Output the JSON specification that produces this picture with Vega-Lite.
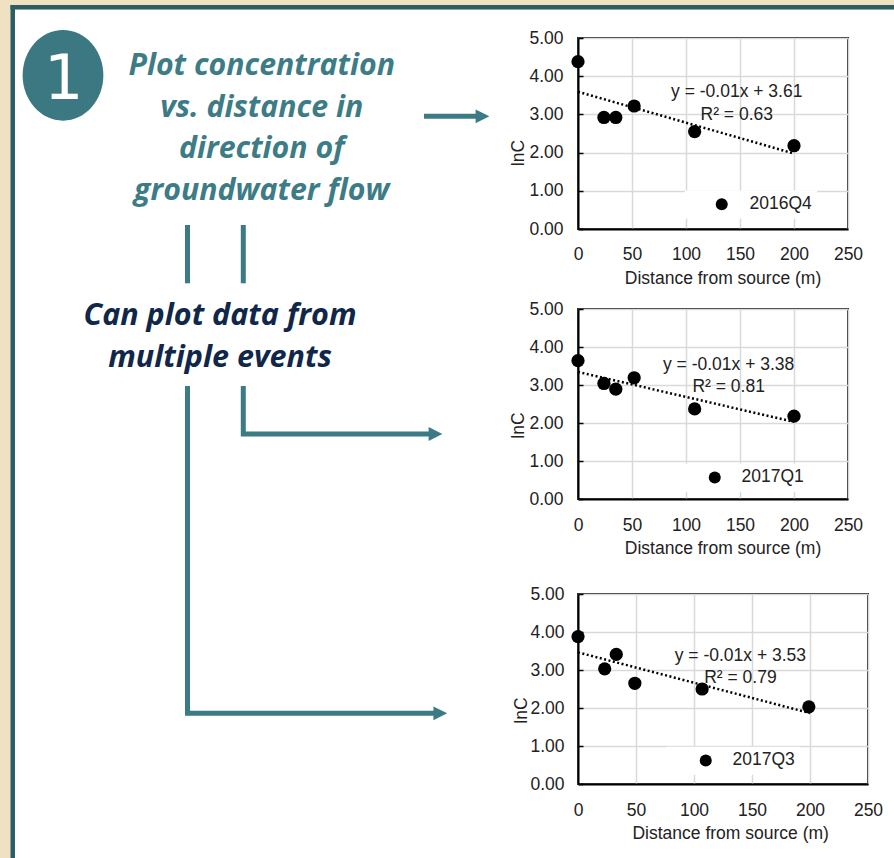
{
  "$schema": "https://vega.github.io/schema/vega-lite/v6.json",
  "background": "#EFE2C3",
  "padding": 0,
  "autosize": {"type": "pad"},
  "columns": 2,
  "spacing": {"row": 80, "column": 18},
  "bounds": "flush",
  "align": "each",
  "resolve": {"scale": {"color": "independent"}},
  "datasets": {
    "pts": [
      {"event": "2016Q4", "dist": 0, "lnC": 4.38},
      {"event": "2016Q4", "dist": 24, "lnC": 2.92},
      {"event": "2016Q4", "dist": 35, "lnC": 2.92},
      {"event": "2016Q4", "dist": 52, "lnC": 3.22},
      {"event": "2016Q4", "dist": 108, "lnC": 2.55},
      {"event": "2016Q4", "dist": 200, "lnC": 2.18},
      {"event": "2017Q1", "dist": 0, "lnC": 3.64},
      {"event": "2017Q1", "dist": 24, "lnC": 3.04},
      {"event": "2017Q1", "dist": 35, "lnC": 2.89},
      {"event": "2017Q1", "dist": 52, "lnC": 3.19},
      {"event": "2017Q1", "dist": 108, "lnC": 2.37},
      {"event": "2017Q1", "dist": 200, "lnC": 2.18},
      {"event": "2017Q3", "dist": 0, "lnC": 3.88},
      {"event": "2017Q3", "dist": 23, "lnC": 3.03},
      {"event": "2017Q3", "dist": 33, "lnC": 3.41},
      {"event": "2017Q3", "dist": 49, "lnC": 2.65},
      {"event": "2017Q3", "dist": 107, "lnC": 2.5},
      {"event": "2017Q3", "dist": 199, "lnC": 2.03}
    ],
    "eqs": [
      {"event": "2016Q4", "label": "y = -0.01x + 3.61", "dist": 147, "lnC": 3.45},
      {"event": "2016Q4", "label": "R² = 0.63", "dist": 147, "lnC": 2.85},
      {"event": "2017Q1", "label": "y = -0.01x + 3.38", "dist": 139.5, "lnC": 3.39},
      {"event": "2017Q1", "label": "R² = 0.81", "dist": 139.5, "lnC": 2.82},
      {"event": "2017Q3", "label": "y = -0.01x + 3.53", "dist": 140, "lnC": 3.24},
      {"event": "2017Q3", "label": "R² = 0.79", "dist": 140, "lnC": 2.67}
    ],
    "bg": [{"x": 0, "x2": 894, "y": 0, "y2": 858}],
    "panel": [{"x": 15, "x2": 894, "y": 9.5, "y2": 858}],
    "border": [
      {"x": 10.5, "x2": 15, "y": 5, "y2": 858},
      {"x": 10.5, "x2": 894, "y": 5, "y2": 9.5}
    ],
    "arrows": [
      {"path": "a", "ord": 1, "x": 424, "y": 116.3},
      {"path": "a", "ord": 2, "x": 478, "y": 116.3},
      {"path": "b", "ord": 1, "x": 187.5, "y": 225},
      {"path": "b", "ord": 2, "x": 187.5, "y": 283.3},
      {"path": "c", "ord": 1, "x": 243.3, "y": 225},
      {"path": "c", "ord": 2, "x": 243.3, "y": 283.3},
      {"path": "d", "ord": 1, "x": 187.5, "y": 386},
      {"path": "d", "ord": 2, "x": 187.5, "y": 713.3},
      {"path": "d", "ord": 3, "x": 436, "y": 713.3},
      {"path": "e", "ord": 1, "x": 243.3, "y": 386},
      {"path": "e", "ord": 2, "x": 243.3, "y": 434},
      {"path": "e", "ord": 3, "x": 431, "y": 434}
    ],
    "heads": [
      {"x": 482.5, "y": 116.3},
      {"x": 440.3, "y": 713.3},
      {"x": 435.5, "y": 434}
    ],
    "badge": [{"x": 63, "y": 75.3}],
    "badgeText": [{"text": "1", "x": 63.7, "y": 99.3}],
    "tealText": [
      {"text": "Plot concentration", "x": 261.7, "y": 75},
      {"text": "vs. distance in", "x": 261.7, "y": 116.7},
      {"text": "direction of", "x": 261.7, "y": 158.3},
      {"text": "groundwater flow", "x": 261.7, "y": 200}
    ],
    "navyText": [
      {"text": "Can plot data from", "x": 220, "y": 325},
      {"text": "multiple events", "x": 220, "y": 367.3}
    ]
  },
  "concat": [
    {
      "width": 560,
      "height": 191,
      "encoding": {
        "x": {"field": "x", "type": "quantitative", "scale": {"domain": [0, 560], "nice": false, "zero": false}, "axis": null},
        "y": {"field": "y", "type": "quantitative", "scale": {"domain": [38, 229], "reverse": true, "nice": false, "zero": false}, "axis": null}
      },
      "layer": [
        {"data": {"name": "bg"}, "mark": {"type": "rect", "fill": "#EFE2C3"}, "encoding": {"x2": {"field": "x2"}, "y2": {"field": "y2"}}},
        {"data": {"name": "panel"}, "mark": {"type": "rect", "fill": "#FFFFFF"}, "encoding": {"x2": {"field": "x2"}, "y2": {"field": "y2"}}},
        {"data": {"name": "border"}, "mark": {"type": "rect", "fill": "#2B5D64"}, "encoding": {"x2": {"field": "x2"}, "y2": {"field": "y2"}}},
        {"data": {"name": "arrows"}, "mark": {"type": "line", "color": "#3C7B85", "strokeWidth": 5, "strokeCap": "butt", "strokeJoin": "miter"}, "encoding": {"detail": {"field": "path"}, "order": {"field": "ord", "type": "quantitative"}}},
        {"data": {"name": "heads"}, "mark": {"type": "point", "shape": "M-1,-1L1,0L-1,1Z", "size": 190, "filled": true, "opacity": 1, "color": "#3C7B85"}},
        {"data": {"name": "badge"}, "mark": {"type": "point", "shape": "M-0.89,0A0.89,1,0,1,1,0.89,0A0.89,1,0,1,1,-0.89,0Z", "size": 8226, "filled": true, "opacity": 1, "color": "#3B7882"}},
        {"data": {"name": "badgeText"}, "mark": {"type": "text", "font": "DejaVu Sans", "fontSize": 62, "color": "#FFFFFF", "align": "center", "baseline": "alphabetic"}, "encoding": {"text": {"field": "text"}}},
        {"data": {"name": "tealText"}, "mark": {"type": "text", "font": "Open Sans", "fontSize": 30.3, "fontWeight": "bold", "fontStyle": "italic", "color": "#3D7C86", "align": "center", "baseline": "alphabetic"}, "encoding": {"text": {"field": "text"}}},
        {"data": {"name": "navyText"}, "mark": {"type": "text", "font": "Open Sans", "fontSize": 30.5, "fontWeight": "bold", "fontStyle": "italic", "color": "#10274A", "align": "center", "baseline": "alphabetic"}, "encoding": {"text": {"field": "text"}}}
      ]
    },
    {
      "width": 270,
      "height": 191,
      "view": {"stroke": "#262626", "strokeWidth": 2},
      "encoding": {
        "x": {"field": "dist", "type": "quantitative", "scale": {"domain": [0, 250], "nice": false}, "axis": {"values": [0, 50, 100, 150, 200, 250], "title": "Distance from source (m)", "titleX": 144.5, "titleY": 54.3, "titleBaseline": "alphabetic", "ticks": false, "labelPadding": 16.5, "labelFlush": false}},
        "y": {"field": "lnC", "type": "quantitative", "scale": {"domain": [0, 5], "nice": false}, "axis": {"values": [0, 1, 2, 3, 4, 5], "format": ".2f", "title": "lnC", "titleX": -54.7, "titleY": 114.5, "titleBaseline": "alphabetic", "titleAngle": 270, "titleAlign": "center", "tickSize": -5, "tickWidth": 1.5, "labelPadding": 20}}
      },
      "layer": [
        {"data": {"name": "pts"}, "transform": [{"filter": "datum.event === '2016Q4'"}, {"regression": "lnC", "on": "dist", "extent": [0, 200]}], "mark": {"type": "line", "color": "#000", "strokeWidth": 2.5, "strokeDash": [2, 2.5]}, "encoding": {}},
        {"data": {"name": "pts"}, "transform": [{"filter": "datum.event === '2016Q4'"}], "mark": {"type": "circle", "size": 175, "opacity": 1}, "encoding": {"color": {"field": "event", "type": "nominal", "scale": {"range": ["#000000"]}, "legend": {"orient": "none", "legendX": 107, "legendY": 152.5, "title": null, "padding": 5, "fillColor": "#FFFFFF", "symbolOffset": 23, "labelOffset": 19, "symbolSize": 144, "symbolType": "circle", "symbolStrokeWidth": 0}}}},
        {"data": {"name": "eqs"}, "transform": [{"filter": "datum.event === '2016Q4'"}], "mark": {"type": "text", "fontSize": 17.5, "color": "#222222", "align": "center", "baseline": "alphabetic"}, "encoding": {"text": {"field": "label"}}}
      ]
    },
    {"width": 10, "height": 205, "data": {"values": []}, "mark": {"type": "point", "opacity": 0}},
    {
      "width": 270,
      "height": 190,
      "view": {"stroke": "#262626", "strokeWidth": 2},
      "encoding": {
        "x": {"field": "dist", "type": "quantitative", "scale": {"domain": [0, 250], "nice": false}, "axis": {"values": [0, 50, 100, 150, 200, 250], "title": "Distance from source (m)", "titleX": 144.5, "titleY": 54.3, "titleBaseline": "alphabetic", "ticks": false, "labelPadding": 17.5, "labelFlush": false}},
        "y": {"field": "lnC", "type": "quantitative", "scale": {"domain": [0, 5], "nice": false}, "axis": {"values": [0, 1, 2, 3, 4, 5], "format": ".2f", "title": "lnC", "titleX": -54.7, "titleY": 116, "titleBaseline": "alphabetic", "titleAngle": 270, "titleAlign": "center", "tickSize": -5, "tickWidth": 1.5, "labelPadding": 20}}
      },
      "layer": [
        {"data": {"name": "pts"}, "transform": [{"filter": "datum.event === '2017Q1'"}, {"regression": "lnC", "on": "dist", "extent": [0, 200]}], "mark": {"type": "line", "color": "#000", "strokeWidth": 2.5, "strokeDash": [2, 2.5]}, "encoding": {}},
        {"data": {"name": "pts"}, "transform": [{"filter": "datum.event === '2017Q1'"}], "mark": {"type": "circle", "size": 175, "opacity": 1}, "encoding": {"color": {"field": "event", "type": "nominal", "scale": {"range": ["#000000"]}, "legend": {"orient": "none", "legendX": 95, "legendY": 154.7, "title": null, "padding": 5, "fillColor": "#FFFFFF", "symbolOffset": 28, "labelOffset": 18, "symbolSize": 144, "symbolType": "circle", "symbolStrokeWidth": 0}}}},
        {"data": {"name": "eqs"}, "transform": [{"filter": "datum.event === '2017Q1'"}], "mark": {"type": "text", "fontSize": 17.5, "color": "#222222", "align": "center", "baseline": "alphabetic"}, "encoding": {"text": {"field": "label"}}}
      ]
    },
    {"width": 10, "height": 150, "data": {"values": []}, "mark": {"type": "point", "opacity": 0}},
    {
      "width": 290,
      "height": 190,
      "view": {"stroke": "#262626", "strokeWidth": 2},
      "encoding": {
        "x": {"field": "dist", "type": "quantitative", "scale": {"domain": [0, 250], "nice": false}, "axis": {"values": [0, 50, 100, 150, 200, 250], "title": "Distance from source (m)", "titleX": 152.2, "titleY": 54.3, "titleBaseline": "alphabetic", "ticks": false, "labelPadding": 17.5, "labelFlush": false}},
        "y": {"field": "lnC", "type": "quantitative", "scale": {"domain": [0, 5], "nice": false}, "axis": {"values": [0, 1, 2, 3, 4, 5], "format": ".2f", "title": "lnC", "titleX": -52, "titleY": 116, "titleBaseline": "alphabetic", "titleAngle": 270, "titleAlign": "center", "tickSize": -5, "tickWidth": 1.5, "labelPadding": 19}}
      },
      "layer": [
        {"data": {"name": "pts"}, "transform": [{"filter": "datum.event === '2017Q3'"}, {"regression": "lnC", "on": "dist", "extent": [0, 200]}], "mark": {"type": "line", "color": "#000", "strokeWidth": 2.5, "strokeDash": [2, 2.5]}, "encoding": {}},
        {"data": {"name": "pts"}, "transform": [{"filter": "datum.event === '2017Q3'"}], "mark": {"type": "circle", "size": 175, "opacity": 1}, "encoding": {"color": {"field": "event", "type": "nominal", "scale": {"range": ["#000000"]}, "legend": {"orient": "none", "legendX": 88, "legendY": 152.7, "title": null, "padding": 5, "fillColor": "#FFFFFF", "symbolOffset": 26, "labelOffset": 18, "symbolSize": 144, "symbolType": "circle", "symbolStrokeWidth": 0}}}},
        {"data": {"name": "eqs"}, "transform": [{"filter": "datum.event === '2017Q3'"}], "mark": {"type": "text", "fontSize": 17.5, "color": "#222222", "align": "center", "baseline": "alphabetic"}, "encoding": {"text": {"field": "label"}}}
      ]
    }
  ],
  "config": {
    "view": {"stroke": null},
    "font": "Liberation Sans",
    "axis": {"labelFont": "Liberation Sans", "labelFontSize": 17.5, "labelColor": "#222222", "titleFont": "Liberation Sans", "titleFontSize": 17.5, "titleFontWeight": "normal", "titleColor": "#222222", "gridColor": "#D9D9D9", "gridWidth": 1.5, "domainColor": "#000000", "domainWidth": 2, "tickColor": "#000000", "labelOverlap": false},
    "legend": {"labelFont": "Liberation Sans", "labelFontSize": 17.5, "labelColor": "#222222"}
  }
}
